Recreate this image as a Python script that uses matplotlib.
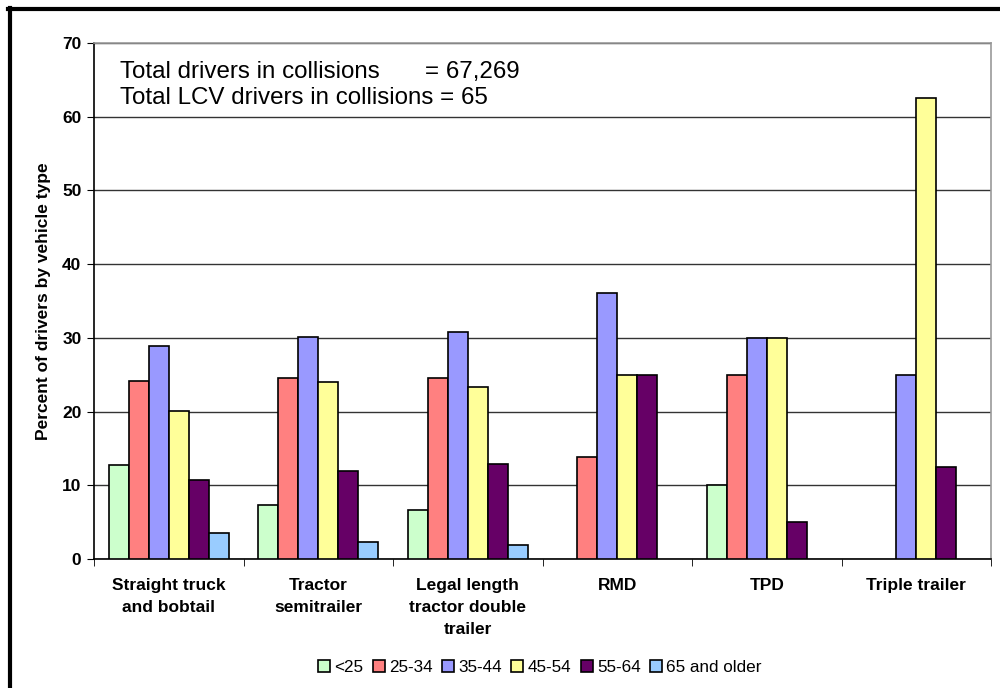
import numpy as np
import matplotlib.pyplot as plt
from matplotlib.lines import Line2D

plt.rcParams['font.family'] = ['Liberation Sans', 'DejaVu Sans']

categories = ["Straight truck\nand bobtail", "Tractor\nsemitrailer",
              "Legal length\ntractor double\ntrailer", "RMD", "TPD", "Triple trailer"]
age_groups = ["<25", "25-34", "35-44", "45-54", "55-64", "65 and older"]

under25 = [12.8, 7.3, 6.6, 0, 10, 0]
age25_34 = [24.1, 24.5, 24.6, 13.9, 25, 0]
age35_44 = [28.9, 30.1, 30.8, 36.1, 30, 25]
age45_54 = [20.1, 24.0, 23.3, 25, 30, 62.5]
age55_64 = [10.7, 12.0, 12.9, 25, 5, 12.5]
age65_up = [3.5, 2.3, 1.9, 0, 0, 0]

series = [under25, age25_34, age35_44, age45_54, age55_64, age65_up]
colors = ["#CCFFCC", "#FF8080", "#9999FF", "#FFFF99", "#660066", "#99CCFF"]

fig = plt.figure(figsize=(10, 6.88), dpi=100)
ax = fig.add_axes([0.094, 0.1875, 0.897, 0.75])

x = np.arange(len(categories))
w = 0.8 / 6
for j, (vals, c) in enumerate(zip(series, colors)):
    vals = np.array(vals, dtype=float)
    xs = x - 0.4 + w * (j + 0.5)
    keep = vals > 0  # empty categories draw nothing
    ax.bar(xs[keep], vals[keep], width=w, color=c, edgecolor="black", linewidth=1.2,
           label=age_groups[j], zorder=3)

ax.set_xlim(-0.5, len(categories) - 0.5)
ax.set_ylim(0, 70)
ax.set_yticks(np.arange(0, 71, 10))
ax.yaxis.grid(True, color="#333333", linewidth=1, zorder=0)
ax.tick_params(axis="y", direction="out", length=5, labelsize=12.5, pad=4)
for lab in ax.get_yticklabels():
    lab.set_fontweight("bold")

ax.set_xticks(x)
ax.set_xticklabels(categories, fontsize=12.5, fontweight="bold", linespacing=1.55)
ax.set_xticks(np.arange(-0.5, len(categories)), minor=True)
ax.tick_params(axis="x", which="major", length=0, pad=14)
ax.tick_params(axis="x", which="minor", direction="out", length=5)

ax.spines["left"].set_color("black")
ax.spines["bottom"].set_color("black")
ax.spines["top"].set_color("#999999")
ax.spines["right"].set_color("#999999")
for s in ax.spines.values():
    s.set_linewidth(1.2)

ax.set_ylabel("Percent of drivers by vehicle type", fontsize=12.5, fontweight="bold", labelpad=8)

fig.text(0.12, 1 - 72 / 688, "Total drivers in collisions", fontsize=17.4, va="center")
fig.text(0.425, 1 - 72 / 688, "= 67,269", fontsize=17.4, va="center")
fig.text(0.12, 1 - 98 / 688, "Total LCV drivers in collisions = 65", fontsize=17.4, va="center")

handles, labels = ax.get_legend_handles_labels()
fig.legend(handles, labels, loc="center", bbox_to_anchor=(0.54, 1 - 667 / 688), ncol=6,
           frameon=False, fontsize=12.3, handlelength=0.7, handleheight=0.7,
           handletextpad=0.25, columnspacing=0.55)

# black frame on top and left of the figure
fig.add_artist(Line2D([0.008, 1.0], [1 - 8.5 / 688, 1 - 8.5 / 688], color="black", linewidth=3))
fig.add_artist(Line2D([0.010, 0.010], [0, 1 - 7.5 / 688], color="black", linewidth=3))

fig.savefig("out.png", dpi=100)
